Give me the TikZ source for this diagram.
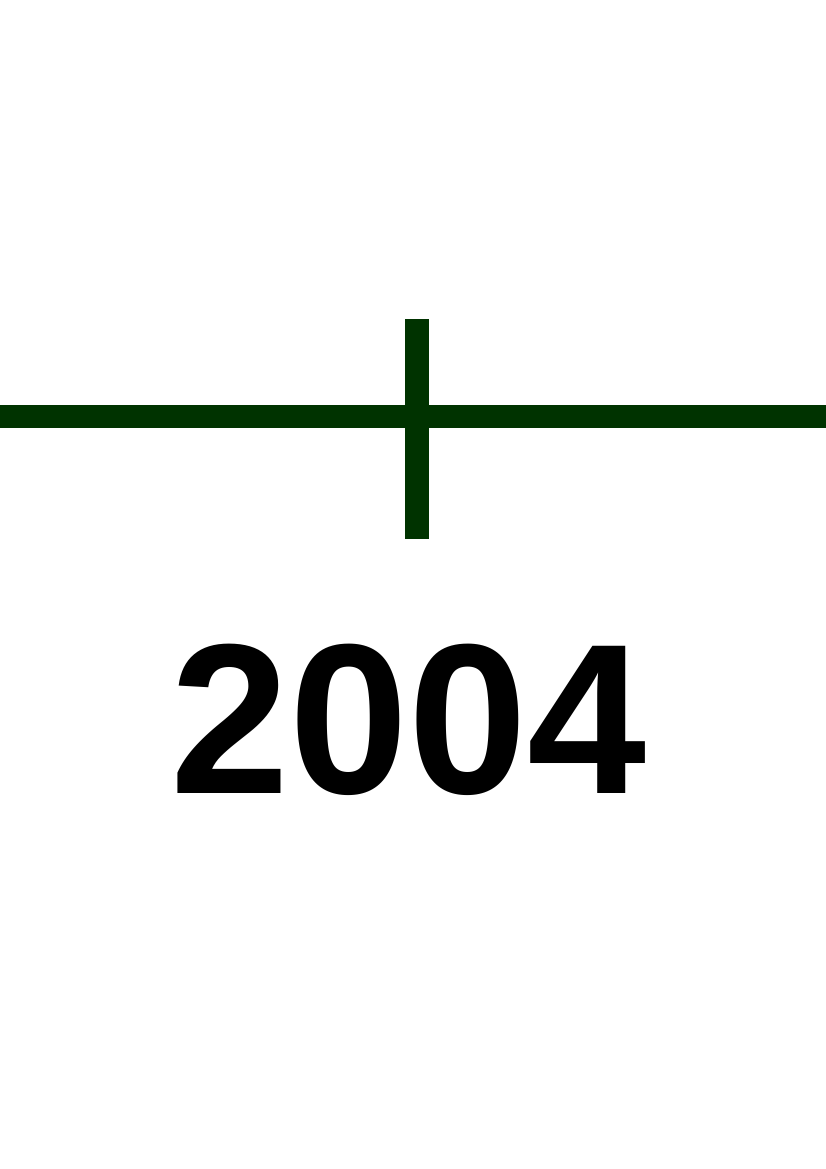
\documentclass[tikz,border=0pt]{standalone}
\usepackage{fontspec}
\setmainfont{Liberation Sans}
\usepackage{xcolor}
\usepackage{tikz}
\usetikzlibrary{positioning}

\definecolor{tickgreen}{HTML}{003300}

\begin{document}
\begin{tikzpicture}[x=1pt, y=-1pt,
  axis/.style={draw=tickgreen, line width=23pt},
  tick/.style={draw=tickgreen, line width=24pt},
  year/.style={inner sep=0pt, anchor=base, font=\bfseries\fontsize{214}{257}\selectfont}]
\useasboundingbox (0,0) rectangle (826,1169);
\coordinate (left) at (0,416.5);
\coordinate (right) at (826,416.5);
\coordinate (ticktop) at (417,319);
\coordinate (tickbot) at (417,539);
\draw[axis] (left) -- (right);
\draw[tick] (ticktop) -- (tickbot);
\node[year] (label) at (408.5,793) {2004};
\end{tikzpicture}
\end{document}
